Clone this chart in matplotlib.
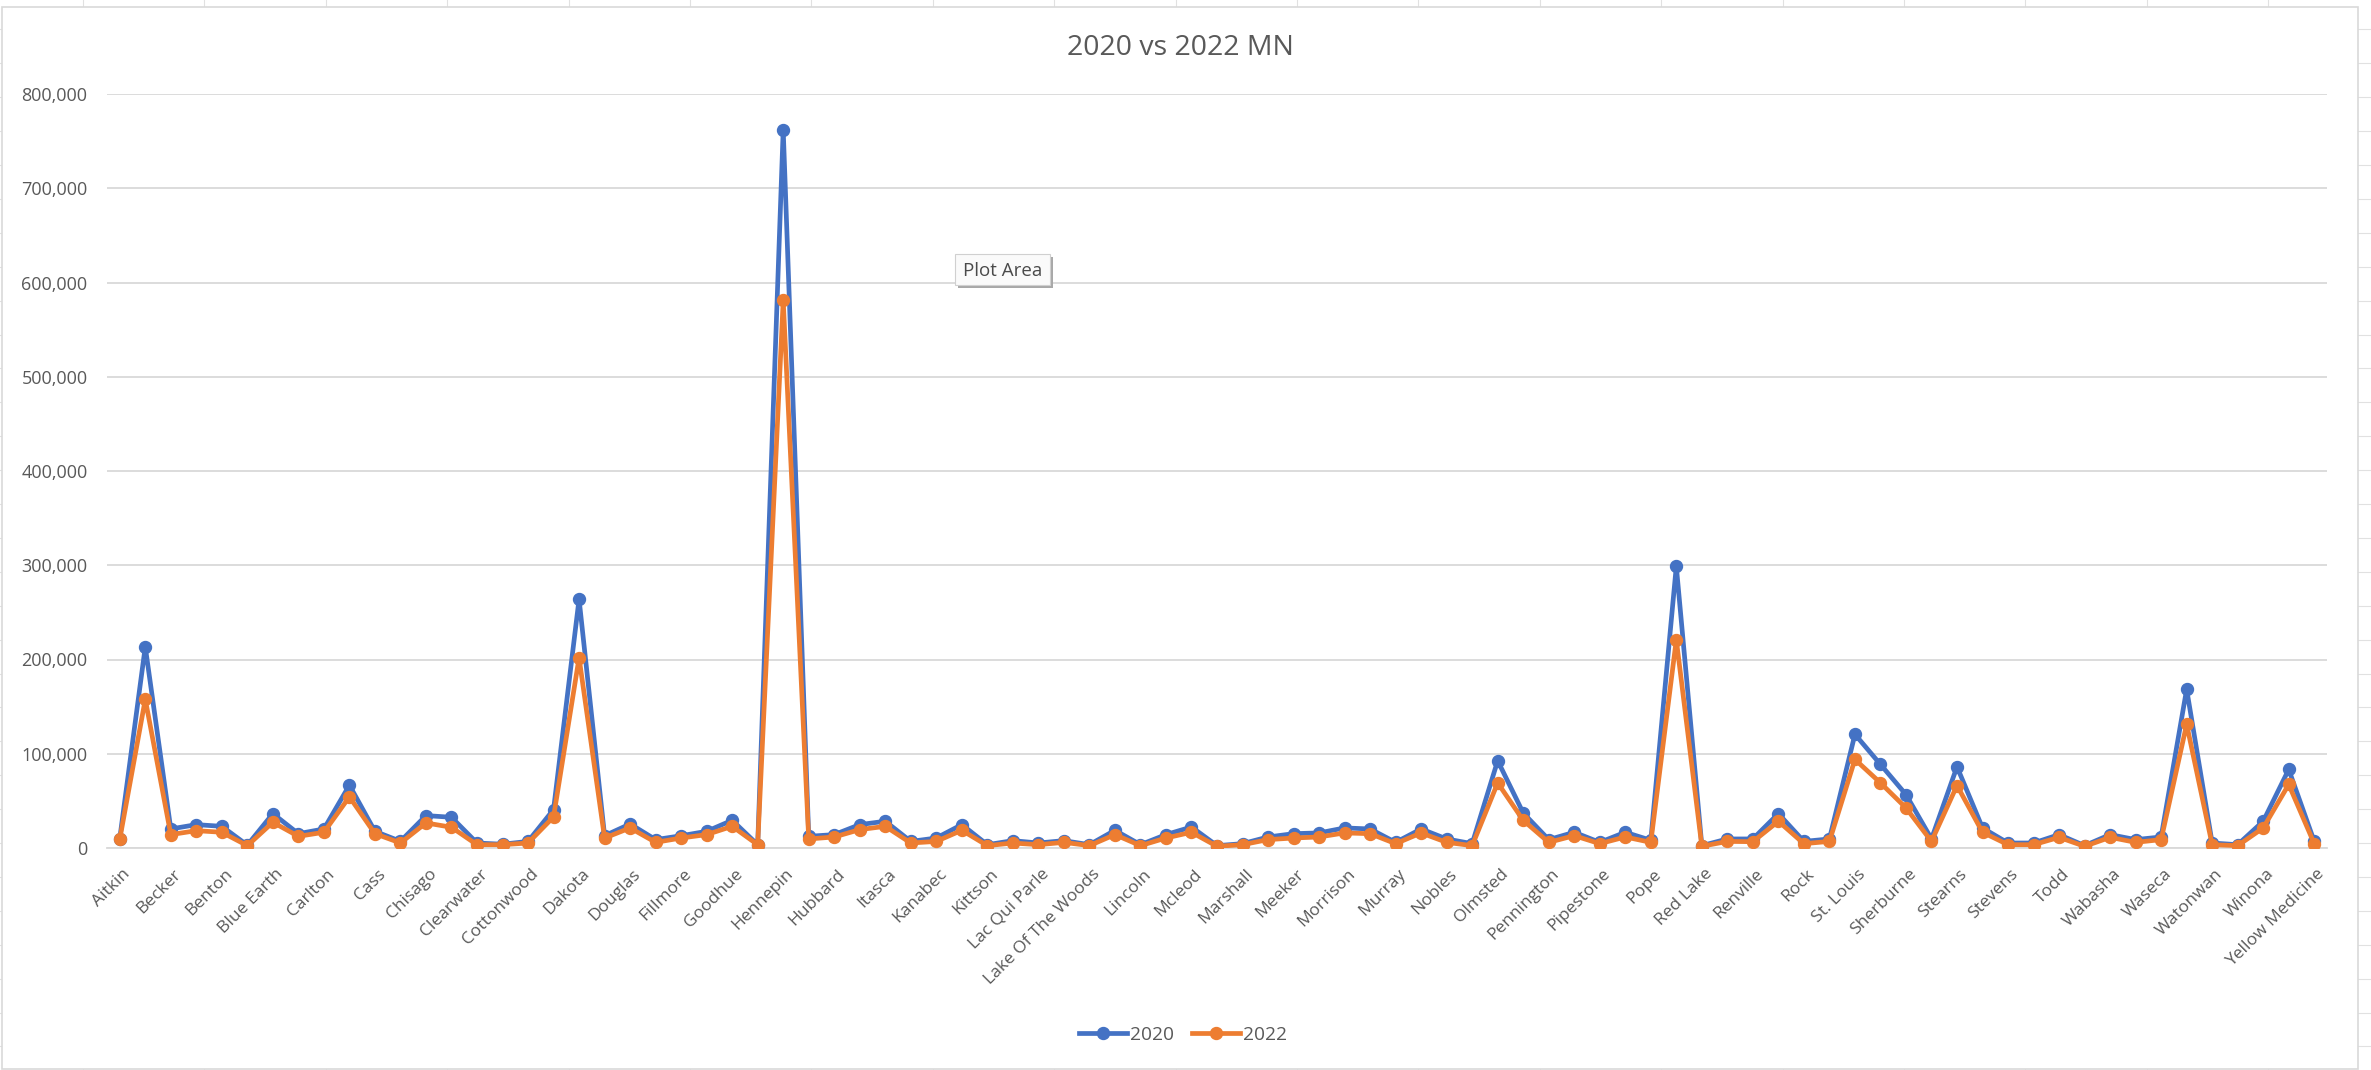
import matplotlib
matplotlib.use("Agg")
import matplotlib.pyplot as plt
import matplotlib.transforms as mtransforms
from matplotlib.patches import Rectangle
from matplotlib.lines import Line2D
from matplotlib.ticker import FuncFormatter
import numpy as np

plt.rcParams['font.family'] = ['Open Sans', 'DejaVu Sans']

counties = [
    "Aitkin", "Anoka", "Becker", "Beltrami", "Benton", "Big Stone", "Blue Earth", "Brown",
    "Carlton", "Carver", "Cass", "Chippewa", "Chisago", "Clay", "Clearwater", "Cook",
    "Cottonwood", "Crow Wing", "Dakota", "Dodge", "Douglas", "Faribault", "Fillmore",
    "Freeborn", "Goodhue", "Grant", "Hennepin", "Houston", "Hubbard", "Isanti", "Itasca",
    "Jackson", "Kanabec", "Kandiyohi", "Kittson", "Koochiching", "Lac Qui Parle", "Lake",
    "Lake Of The Woods", "Le Sueur", "Lincoln", "Lyon", "Mcleod", "Mahnomen", "Marshall",
    "Martin", "Meeker", "Mille Lacs", "Morrison", "Mower", "Murray", "Nicollet", "Nobles",
    "Norman", "Olmsted", "Otter Tail", "Pennington", "Pine", "Pipestone", "Polk", "Pope",
    "Ramsey", "Red Lake", "Redwood", "Renville", "Rice", "Rock", "Roseau", "St. Louis",
    "Scott", "Sherburne", "Sibley", "Stearns", "Steele", "Stevens", "Swift", "Todd",
    "Traverse", "Wabasha", "Wadena", "Waseca", "Washington", "Watonwan", "Wilkin",
    "Winona", "Wright", "Yellow Medicine",
]

votes_2020 = [
    10000, 213500, 20200, 24800, 23000, 3000, 36500, 15200,
    20200, 66700, 17700, 7100, 34400, 32600, 5300, 4000,
    7000, 40800, 264000, 13000, 25500, 8900, 13000,
    17700, 29400, 3500, 762000, 12400, 14200, 24800, 28400,
    7000, 10600, 24800, 3500, 7800, 5300, 7800,
    3500, 18800, 3500, 14200, 22300, 2500, 4600,
    11700, 15200, 16000, 21300, 20200, 6000, 20200, 9600,
    4600, 92600, 37200, 8900, 16700, 6000, 16700, 8200,
    299000, 2500, 9600, 9600, 36500, 7000, 9600, 120600,
    88700, 56700, 9600, 86200, 21300, 5300, 5300, 14200,
    2500, 14200, 8900, 11700, 168400, 5300, 3500,
    28400, 83300, 7000,
]

votes_2022 = [
    9300, 157800, 14200, 18400, 16700, 2500, 27300, 12400,
    16700, 54300, 15200, 5300, 26600, 22000, 3500, 3500,
    5300, 33000, 201800, 10600, 21300, 6000, 10600,
    14200, 23000, 3500, 581000, 9600, 11700, 19500, 23000,
    5300, 7000, 18800, 2500, 5300, 3500, 6000,
    2500, 14200, 2500, 10600, 16700, 1800, 3500,
    8900, 10600, 11700, 16000, 15200, 4600, 16000, 6000,
    2500, 69100, 29400, 6000, 13100, 4600, 11700, 6000,
    221000, 1800, 7000, 6700, 28400, 4600, 7000, 94000,
    69100, 42600, 7000, 66300, 16700, 3500, 3500, 11300,
    1800, 11300, 6000, 8900, 131200, 3500, 2500,
    21300, 67400, 4600,
]

W, H = 2371, 1070
fig = plt.figure(figsize=(W / 100, H / 100), dpi=100)

# spreadsheet cell lines behind the chart object
for x in np.arange(83 - 121.4, W, 121.4):
    fig.add_artist(Line2D([x / W, x / W], [0, 1], color="#E1E1E1", lw=0.8, zorder=0))
for y in np.arange(843 - 33.9 * 25, H, 33.9):
    fig.add_artist(Line2D([0, 1], [1 - y / H, 1 - y / H], color="#E1E1E1", lw=0.8, zorder=0))

# chart area
fig.add_artist(Rectangle((2 / W, 1 / H), (2358 - 2) / W, (1063 - 1) / H,
                         facecolor="white", edgecolor="#D9D9D9", lw=1.2, zorder=1))

left, right = 107 / W, 2327 / W
bottom, top = 1 - 848 / H, 1 - 94 / H
ax = fig.add_axes([left, bottom, right - left, top - bottom], zorder=2)
ax.patch.set_alpha(0)

x = np.arange(len(counties))
blue = "#4472C4"
orange = "#ED7D31"
ax.plot(x, votes_2020, color=blue, lw=3.4, marker="o", ms=8.6, label="2020",
        solid_joinstyle="round", zorder=3)
ax.plot(x, votes_2022, color=orange, lw=3.4, marker="o", ms=8.6, label="2022",
        solid_joinstyle="round", zorder=4)

ax.set_xlim(-0.5, len(counties) - 0.5)
ax.set_ylim(0, 800000)
ax.set_yticks(np.arange(0, 800001, 100000))
ax.yaxis.set_major_formatter(FuncFormatter(lambda v, p: f"{int(v):,}"))
ax.grid(axis="y", color="#D9D9D9", lw=1.3)
ax.set_axisbelow(True)
for s in ["left", "right", "top"]:
    ax.spines[s].set_visible(False)
ax.spines["bottom"].set_color("#D9D9D9")
ax.spines["bottom"].set_linewidth(1.3)

ax.set_xticks(x[::2])
ax.set_xticklabels(counties[::2], rotation=45, ha="right", va="center",
                   rotation_mode="anchor")
ax.tick_params(axis="x", length=0, pad=17, labelsize=12.5, labelcolor="#595959")
ax.tick_params(axis="y", length=0, pad=14, labelsize=13, labelcolor="#595959")
shift = mtransforms.ScaledTranslation(8 / 100, 0, fig.dpi_scale_trans)
for lab in ax.get_xticklabels():
    lab.set_transform(lab.get_transform() + shift)

fig.text(1180 / W, 1 - 48 / H, "2020 vs 2022 MN", ha="center", va="center",
         fontsize=20.5, color="#595959", zorder=5)

fig.legend(loc="center", bbox_to_anchor=(1183 / W, 1 - 1035 / H), ncol=2, frameon=False,
           fontsize=13.8, handlelength=2.5, handletextpad=0.2, columnspacing=0.9,
           labelcolor="#595959")

# hover tooltip over the plot area
tx0, ty0, tw, th = 955, 254, 95, 31
fig.add_artist(Rectangle(((tx0 + 3) / W, 1 - (ty0 + th + 3) / H), tw / W, th / H,
                         facecolor="#A8A8A8", edgecolor="none", zorder=6))
fig.add_artist(Rectangle((tx0 / W, 1 - (ty0 + th) / H), tw / W, th / H,
                         facecolor="#FAFAFA", edgecolor="#D0D0D0", lw=0.8, zorder=7))
fig.text((tx0 + tw / 2) / W, 1 - (ty0 + th / 2 + 1) / H, "Plot Area", ha="center",
         va="center", fontsize=13.5, color="#4A4A4A", zorder=8)

plt.savefig("out.png", dpi=100)
plt.close()
